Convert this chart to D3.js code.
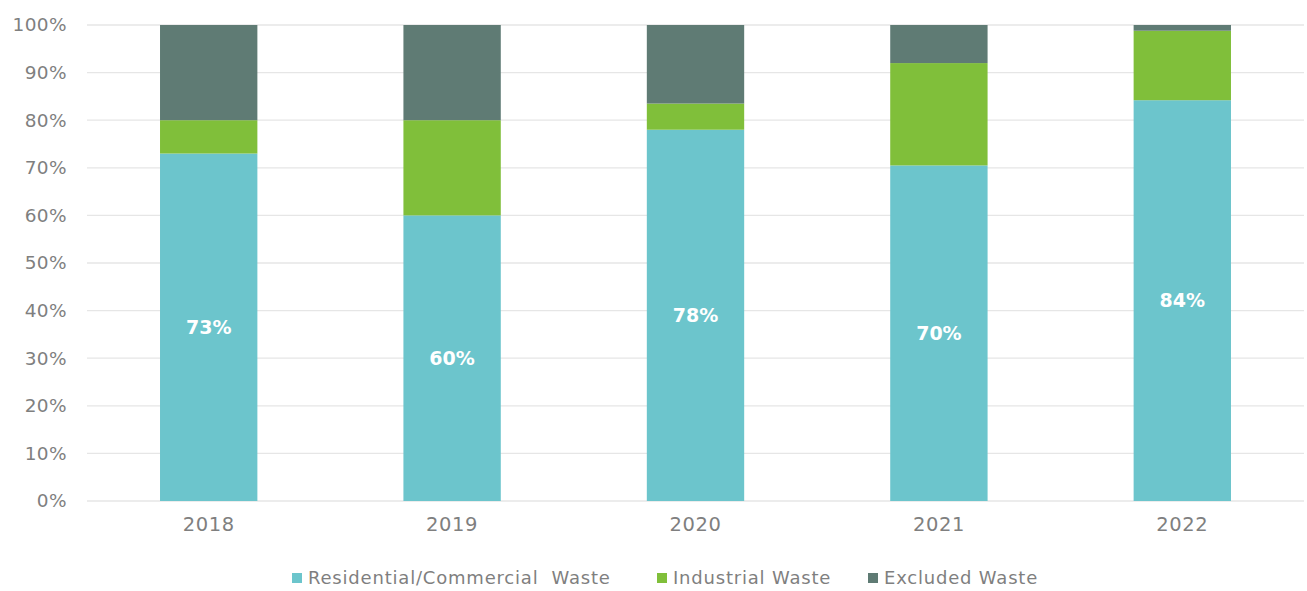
<!DOCTYPE html>
<html>
<head>
<meta charset="utf-8">
<script src="https://cdn.jsdelivr.net/npm/d3@7"></script>
<style>
  html, body { margin: 0; padding: 0; background: #fff; }
  svg { display: block; }
  text { font-family: "DejaVu Sans", sans-serif; }
</style>
</head>
<body>
<svg id="chart" width="1307" height="591"></svg>
<script>
const years = ["2018", "2019", "2020", "2021", "2022"];
const residential = [73, 60, 78, 70.5, 84.2];
const industrial = [7, 20, 5.5, 21.5, 14.6];
const excluded = [20, 20, 16.5, 8, 1.2];
const residentialLabels = ["73%", "60%", "78%", "70%", "84%"];
const seriesNames = ["Residential/Commercial  Waste", "Industrial Waste", "Excluded Waste"];
const seriesColors = ["#6CC5CC", "#80BF3A", "#5F7B74"];
const yTicks = [0, 10, 20, 30, 40, 50, 60, 70, 80, 90, 100];

const svg = d3.select("#chart");
const margin = { left: 87, right: 3, top: 25, bottom: 90 };
const W = 1307, H = 591;
const x = d3.scaleBand().domain(years).range([margin.left, W - margin.right]).paddingInner(0.6).paddingOuter(0.3);
const y = d3.scaleLinear().domain([0, 100]).range([H - margin.bottom, margin.top]);

// gridlines
svg.append("g").selectAll("line").data(yTicks).join("line")
  .attr("x1", margin.left).attr("x2", W - margin.right)
  .attr("y1", d => y(d)).attr("y2", d => y(d))
  .attr("stroke", "#e6e6e6").attr("stroke-width", 1.3);

// y axis labels
const yAxis = d3.axisLeft(y).tickValues(yTicks).tickFormat(d => d + "%").tickSize(0).tickPadding(20);
const yg = svg.append("g").attr("transform", `translate(${margin.left},0)`).call(yAxis);
yg.select(".domain").remove();
yg.selectAll("text").attr("fill", "#7f7f7f").style("font-size", "18.5px")
  .style("letter-spacing", "0.4px").style("font-family", "DejaVu Sans, sans-serif");

// stacked data
const table = years.map((yr, i) => ({ year: yr, r: residential[i], ind: industrial[i], ex: excluded[i] }));
const stack = d3.stack().keys(["r", "ind", "ex"]);
const layers = stack(table);

svg.append("g").selectAll("g").data(layers).join("g")
  .attr("fill", (d, i) => seriesColors[i])
  .selectAll("rect").data(d => d).join("rect")
  .attr("x", d => x(d.data.year))
  .attr("width", x.bandwidth())
  .attr("y", d => y(d[1]))
  .attr("height", d => y(d[0]) - y(d[1]));

// data labels
svg.append("g").selectAll("text").data(table).join("text")
  .attr("x", d => x(d.year) + x.bandwidth() / 2)
  .attr("y", d => y(d.r / 2))
  .attr("dy", "0.36em")
  .attr("text-anchor", "middle")
  .attr("fill", "#ffffff")
  .style("font-size", "19px")
  .style("font-weight", "bold")
  .text((d, i) => residentialLabels[i]);

// x axis labels
const xAxis = d3.axisBottom(x).tickSize(0).tickPadding(16);
const xg = svg.append("g").attr("transform", `translate(0,${y(0)})`).call(xAxis);
xg.select(".domain").remove();
xg.selectAll("text").attr("fill", "#7f7f7f").style("font-size", "19.5px")
  .style("letter-spacing", "0.6px").style("font-family", "DejaVu Sans, sans-serif");

// legend
const legendX = [292, 657, 868];
const lg = svg.append("g").selectAll("g").data(seriesNames).join("g")
  .attr("transform", (d, i) => `translate(${legendX[i]},578)`);
lg.append("rect").attr("x", 0).attr("y", -5).attr("width", 10).attr("height", 10)
  .attr("fill", (d, i) => seriesColors[i]);
lg.append("text").attr("x", 16).attr("y", 0).attr("dy", "0.36em")
  .attr("fill", "#7f7f7f").style("font-size", "18px").style("letter-spacing", "0.8px")
  .style("white-space", "pre").attr("xml:space", "preserve")
  .text(d => d);
</script>
</body>
</html>
